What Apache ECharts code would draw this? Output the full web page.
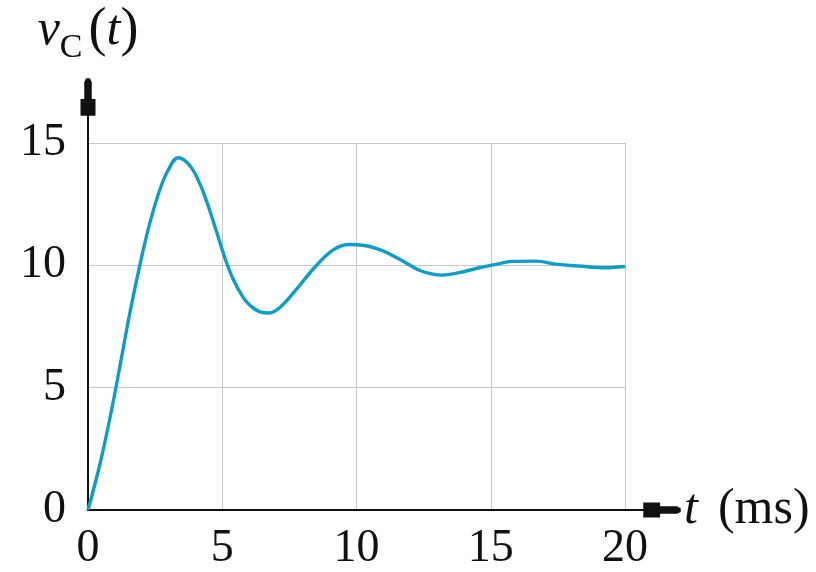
<!DOCTYPE html>
<html>
<head>
<meta charset="utf-8">
<script src="https://cdn.jsdelivr.net/npm/echarts@6/dist/echarts.min.js"></script>
<style>
  html, body { margin: 0; padding: 0; background: #ffffff; }
  #chart { width: 816px; height: 572px; }
</style>
</head>
<body>
<div id="chart"></div>
<script>
// Capacitor voltage step response, sampled time (ms) and voltage (V)
const timeMs = [
  0, 0.45, 0.88, 1.21, 1.54, 1.93, 2.18, 2.37, 2.68, 2.99,
  3.36, 3.79, 4.16, 4.47, 4.78, 5.1, 5.4, 5.77, 6.05, 6.4,
  6.75, 7.14, 7.76, 8.38, 9.12, 9.74, 10.23, 10.98, 11.72, 12.34,
  12.84, 13.2, 13.83, 14.57, 15.19, 15.81, 16.68, 17.42, 18.41, 19.16,
  20
];
const vC = [
  0, 1.9, 4.1, 6.0, 7.95, 10.0, 11.2, 12.0, 13.1, 13.9,
  14.4, 14.08, 13.35, 12.45, 11.4, 10.3, 9.45, 8.7, 8.35, 8.1,
  8.05, 8.27, 9.02, 9.84, 10.62, 10.85, 10.82, 10.59, 10.18, 9.8,
  9.64, 9.6, 9.7, 9.9, 10.04, 10.16, 10.17, 10.05, 9.96, 9.9,
  9.95
];
const xTicks = [0, 5, 10, 15, 20];
const yTicks = [0, 5, 10, 15];

const serif = 'Liberation Serif';
const ink = '#111111';
const gridGrey = '#c6c6c6';
const curveColor = '#0f9dc6';
// narrow-tipped arrowhead, pointing up in its own frame
const arrowPath = 'path://M6,0 L10,0 L12,4 L12,22 L16,22 L16,40 L0,40 L0,22 L4,22 L4,4 Z';

const points = timeMs.map((t, i) => [t, vC[i]]);

const chart = echarts.init(document.getElementById('chart'), null, { renderer: 'canvas' });
chart.setOption({
  backgroundColor: '#ffffff',
  animation: false,
  grid: [
    { left: 88, right: 191, top: 143, bottom: 62, outerBoundsMode: 'none' },
    { left: 88, right: 154, top: 97, bottom: 62, outerBoundsMode: 'none' }
  ],
  xAxis: [
    {
      type: 'value', gridIndex: 0,
      min: xTicks[0], max: xTicks[xTicks.length - 1], interval: 5,
      axisLine: { show: false },
      axisTick: { show: false },
      splitLine: { show: true, lineStyle: { color: gridGrey, width: 1 } },
      axisLabel: {
        margin: 16,
        fontFamily: serif, fontSize: 46, color: ink,
        formatter: v => (xTicks.includes(v) ? String(v) : '')
      }
    },
    {
      type: 'value', gridIndex: 1, min: 0, max: 1,
      axisLine: {
        show: true, onZero: false,
        lineStyle: { color: ink, width: 2 },
        symbol: ['none', arrowPath], symbolSize: [15, 40]
      },
      axisTick: { show: false }, axisLabel: { show: false }, splitLine: { show: false },
      name: '{i|t}(ms)', nameLocation: 'end', nameGap: 22,
      nameTextStyle: {
        fontFamily: serif, fontSize: 50, color: ink, align: 'left', verticalAlign: 'middle',
        rich: {
          i: { fontFamily: serif, fontSize: 50, fontStyle: 'italic', color: ink, padding: [0, 20, 0, 0] }
        }
      }
    }
  ],
  yAxis: [
    {
      type: 'value', gridIndex: 0,
      min: yTicks[0], max: yTicks[yTicks.length - 1], interval: 5,
      axisLine: { show: false },
      axisTick: { show: false },
      splitLine: { show: true, lineStyle: { color: gridGrey, width: 1 } },
      axisLabel: {
        margin: 22,
        fontFamily: serif, fontSize: 46, color: ink,
        formatter: v => (yTicks.includes(v) ? String(v) : '')
      }
    },
    {
      type: 'value', gridIndex: 1, min: 0, max: 1,
      axisLine: {
        show: true, onZero: false,
        lineStyle: { color: ink, width: 2 },
        symbol: ['none', arrowPath], symbolSize: [15, 40]
      },
      axisTick: { show: false }, axisLabel: { show: false }, splitLine: { show: false },
      name: '{v|v}{c|C}{p|(}{t|t}{p|)}', nameLocation: 'end', nameGap: 32,
      nameTextStyle: {
        align: 'center', verticalAlign: 'bottom',
        rich: {
          v: { fontFamily: serif, fontSize: 50, fontStyle: 'italic', color: ink },
          c: { fontFamily: serif, fontSize: 34, color: ink, padding: [34, 6, 0, 0] },
          p: { fontFamily: serif, fontSize: 54, color: ink },
          t: { fontFamily: serif, fontSize: 50, fontStyle: 'italic', color: ink }
        }
      }
    }
  ],
  series: [
    {
      type: 'line',
      xAxisIndex: 0, yAxisIndex: 0,
      data: points,
      smooth: 0.4,
      showSymbol: false,
      lineStyle: { color: curveColor, width: 3.4 },
      z: 5
    }
  ]
});
</script>
</body>
</html>
